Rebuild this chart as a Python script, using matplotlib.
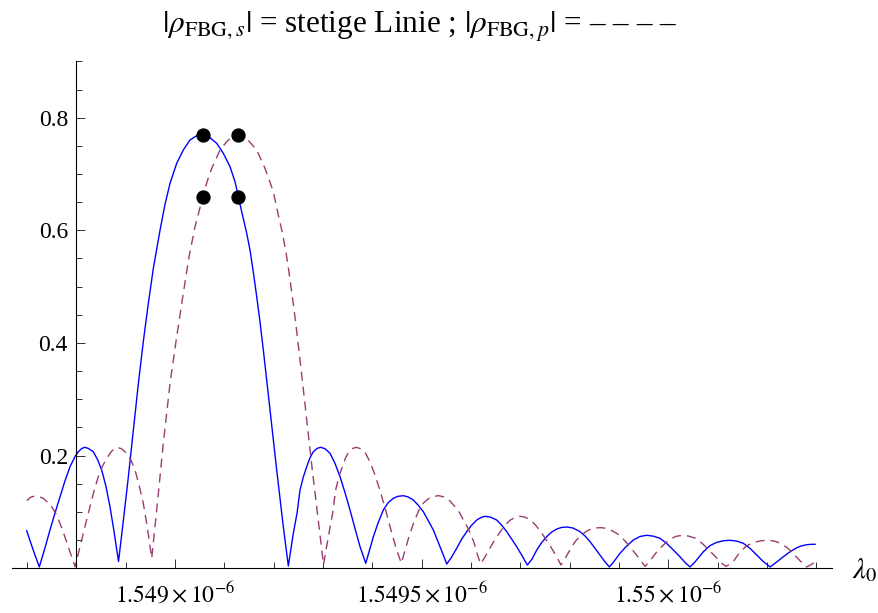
import matplotlib
matplotlib.use("Agg")
import matplotlib.pyplot as plt
from matplotlib.ticker import FixedLocator, FixedFormatter

# ---- data (wavelength in nm, |rho| dimensionless) ----
lam_s = [1548.6994, 1548.7122, 1548.7249,
         1548.7365, 1548.7466, 1548.7568, 1548.7669, 1548.7770, 1548.7872, 1548.7973,
         1548.8040, 1548.8109, 1548.8176, 1548.8243, 1548.8344, 1548.8429, 1548.8514,
         1548.8601, 1548.8682, 1548.8764, 1548.8855,
         1548.8952, 1548.9053, 1548.9155, 1548.9256, 1548.9357, 1548.9459, 1548.9560,
         1548.9696, 1548.9797, 1548.9899, 1549.0034, 1549.0168, 1549.0304, 1549.0440,
         1549.0574, 1549.0709, 1549.0845, 1549.0979, 1549.1115, 1549.1216, 1549.1283,
         1549.1352, 1549.1453, 1549.1520, 1549.1587, 1549.1656, 1549.1723, 1549.1790,
         1549.1859, 1549.1926, 1549.1993, 1549.2061, 1549.2128, 1549.2195, 1549.2250,
         1549.2297,
         1549.2398, 1549.2473, 1549.2534, 1549.2601, 1549.2670, 1549.2736, 1549.2803,
         1549.2878, 1549.2953, 1549.3041, 1549.3142, 1549.3243, 1549.3345, 1549.3446,
         1549.3547, 1549.3649, 1549.3750, 1549.3866,
         1549.3943, 1549.4020, 1549.4115, 1549.4222, 1549.4318, 1549.4425, 1549.4520,
         1549.4628, 1549.4723, 1549.4830, 1549.4926, 1549.5033, 1549.5128, 1549.5236,
         1549.5331, 1549.5438, 1549.5507,
         1549.5595, 1549.5710, 1549.5807, 1549.5913, 1549.6010, 1549.6116, 1549.6203,
         1549.6284, 1549.6395, 1549.6521, 1549.6618, 1549.6724, 1549.6821, 1549.6926,
         1549.7034, 1549.7141,
         1549.7236, 1549.7332, 1549.7429, 1549.7534, 1549.7632, 1549.7737, 1549.7834,
         1549.7940, 1549.8067, 1549.8209, 1549.8311, 1549.8412, 1549.8513, 1549.8615,
         1549.8716, 1549.8803,
         1549.8899, 1549.9020, 1549.9152, 1549.9290, 1549.9426, 1549.9561, 1549.9689,
         1549.9831, 1549.9963, 1550.0101, 1550.0236, 1550.0338, 1550.0439,
         1550.0540, 1550.0709, 1550.0845, 1550.0980, 1550.1118, 1550.1250, 1550.1382,
         1550.1519, 1550.1655, 1550.1791, 1550.1919, 1550.2061,
         1550.2182, 1550.2330, 1550.2466, 1550.2602, 1550.2699, 1550.2805, 1550.2892,
         1550.2973]
rho_s = [0.0664, 0.0330, 0.0020,
         0.0360, 0.0677, 0.0980, 0.1268, 0.1550, 0.1801, 0.1980,
         0.2067, 0.2125, 0.2146, 0.2125, 0.2067, 0.1930, 0.1742,
         0.1450, 0.1091, 0.0650, 0.0117,
         0.0836, 0.1610, 0.2450, 0.3270, 0.4020, 0.4700, 0.5320,
         0.6000, 0.6460, 0.6835, 0.7190, 0.7426, 0.7604, 0.7680,
         0.7693, 0.7645, 0.7545, 0.7368, 0.7130, 0.6863, 0.6597,
         0.6330, 0.5947, 0.5650, 0.5259, 0.4821, 0.4371, 0.3874,
         0.3341, 0.2808, 0.2275, 0.1742, 0.1245, 0.0735, 0.0357,
         0.0037,
         0.0618, 0.0973, 0.1387, 0.1620, 0.1801, 0.1960, 0.2067,
         0.2125, 0.2146, 0.2120, 0.2039, 0.1860, 0.1623, 0.1340,
         0.1032, 0.0700, 0.0380, 0.0085,
         0.0320, 0.0558, 0.0800, 0.1032, 0.1160, 0.1240, 0.1275,
         0.1286, 0.1265, 0.1210, 0.1120, 0.1002, 0.0850, 0.0677,
         0.0470, 0.0233, 0.0073,
         0.0180, 0.0352, 0.0510, 0.0647, 0.0760, 0.0854, 0.0900,
         0.0920, 0.0905, 0.0854, 0.0765, 0.0647, 0.0520, 0.0380,
         0.0220, 0.0055,
         0.0160, 0.0321, 0.0450, 0.0558, 0.0640, 0.0694, 0.0722,
         0.0730, 0.0712, 0.0647, 0.0570, 0.0470, 0.0350, 0.0230,
         0.0110, 0.0020,
         0.0120, 0.0263, 0.0390, 0.0499, 0.0562, 0.0583, 0.0568,
         0.0529, 0.0440, 0.0321, 0.0200, 0.0100, 0.0020,
         0.0110, 0.0291, 0.0400, 0.0458, 0.0486, 0.0494, 0.0480,
         0.0440, 0.0350, 0.0233, 0.0120, 0.0020,
         0.0100, 0.0202, 0.0290, 0.0362, 0.0395, 0.0416, 0.0422,
         0.0423]

lam_p = [1548.6994, 1548.7081, 1548.7162, 1548.7243, 1548.7330, 1548.7416, 1548.7501,
         1548.7588, 1548.7669, 1548.7750, 1548.7837, 1548.7912, 1548.7973,
         1548.8044, 1548.8109, 1548.8196, 1548.8277, 1548.8358, 1548.8445, 1548.8530,
         1548.8616, 1548.8713, 1548.8818, 1548.8916, 1548.9021, 1548.9108, 1548.9189,
         1548.9270, 1548.9357, 1548.9443, 1548.9528,
         1548.9629, 1548.9763, 1548.9899, 1549.0034, 1549.0168, 1549.0284, 1549.0405,
         1549.0507, 1549.0561, 1549.0649, 1549.0744, 1549.0912, 1549.1048, 1549.1155,
         1549.1283,
         1549.1453, 1549.1551, 1549.1656, 1549.1824, 1549.1993, 1549.2094, 1549.2169,
         1549.2242, 1549.2309, 1549.2378, 1549.2445, 1549.2511, 1549.2580, 1549.2647,
         1549.2714, 1549.2783, 1549.2850, 1549.2917, 1549.2972, 1549.3010,
         1549.3120, 1549.3195, 1549.3255, 1549.3322, 1549.3391, 1549.3458, 1549.3525,
         1549.3600, 1549.3675, 1549.3762, 1549.3864, 1549.3965, 1549.4066, 1549.4168,
         1549.4269, 1549.4370, 1549.4472, 1549.4587,
         1549.4664, 1549.4741, 1549.4836, 1549.4944, 1549.5039, 1549.5147, 1549.5242,
         1549.5349, 1549.5445, 1549.5552, 1549.5647, 1549.5755, 1549.5850, 1549.5957,
         1549.6053, 1549.6132, 1549.6193,
         1549.6284, 1549.6385, 1549.6486, 1549.6588, 1549.6689, 1549.6790, 1549.6892,
         1549.6993, 1549.7095, 1549.7210, 1549.7307, 1549.7413, 1549.7510, 1549.7615,
         1549.7723, 1549.7824,
         1549.7926, 1549.8027, 1549.8128, 1549.8230, 1549.8331, 1549.8432, 1549.8534,
         1549.8649, 1549.8777, 1549.8953, 1549.9061, 1549.9162, 1549.9263, 1549.9365,
         1549.9446, 1549.9527,
         1549.9620, 1549.9742, 1549.9874, 1550.0011, 1550.0147, 1550.0283, 1550.0411,
         1550.0553, 1550.0684, 1550.0822, 1550.0958, 1550.1059, 1550.1169,
         1550.1311, 1550.1453, 1550.1594, 1550.1736, 1550.1878, 1550.2020, 1550.2142,
         1550.2284, 1550.2426, 1550.2557, 1550.2679, 1550.2801, 1550.2892, 1550.2973]
rho_p = [0.1197, 0.1262, 0.1281, 0.1268, 0.1240, 0.1170, 0.1091,
         0.0960, 0.0796, 0.0600, 0.0380, 0.0185, 0.0025,
         0.0270, 0.0499, 0.0810, 0.1091, 0.1370, 0.1623, 0.1810,
         0.1950, 0.2075, 0.2146, 0.2120, 0.2039, 0.1920, 0.1742,
         0.1480, 0.1151, 0.0700, 0.0174,
         0.1032, 0.2217, 0.3282, 0.4110, 0.4881, 0.5530, 0.6060,
         0.6400, 0.6586, 0.6860, 0.7101, 0.7426, 0.7574, 0.7660,
         0.7684,
         0.7634, 0.7530, 0.7426, 0.7101, 0.6686, 0.6272, 0.5980,
         0.5650, 0.5260, 0.4820, 0.4370, 0.3870, 0.3340, 0.2810,
         0.2275, 0.1740, 0.1245, 0.0735, 0.0360, 0.0060,
         0.0618, 0.0973, 0.1387, 0.1620, 0.1801, 0.1960, 0.2067,
         0.2125, 0.2146, 0.2120, 0.2039, 0.1860, 0.1623, 0.1340,
         0.1032, 0.0700, 0.0380, 0.0085,
         0.0320, 0.0558, 0.0800, 0.1032, 0.1160, 0.1240, 0.1275,
         0.1286, 0.1265, 0.1210, 0.1120, 0.1002, 0.0850, 0.0677,
         0.0470, 0.0233, 0.0073,
         0.0200, 0.0360, 0.0510, 0.0640, 0.0760, 0.0850, 0.0900,
         0.0920, 0.0905, 0.0854, 0.0765, 0.0647, 0.0520, 0.0380,
         0.0220, 0.0055,
         0.0200, 0.0360, 0.0490, 0.0580, 0.0650, 0.0695, 0.0715,
         0.0718, 0.0700, 0.0618, 0.0540, 0.0440, 0.0330, 0.0220,
         0.0120, 0.0030,
         0.0120, 0.0263, 0.0390, 0.0499, 0.0562, 0.0583, 0.0568,
         0.0529, 0.0440, 0.0321, 0.0200, 0.0100, 0.0030,
         0.0110, 0.0290, 0.0400, 0.0458, 0.0486, 0.0494, 0.0480,
         0.0440, 0.0350, 0.0233, 0.0120, 0.0020, 0.0060, 0.0110]

dot_lam = [1549.0561, 1549.1283, 1549.0561, 1549.1283]
dot_rho = [0.7684, 0.7684, 0.6586, 0.6586]

xmajor = [1549.0, 1549.5, 1550.0]
xmajor_labels = [r"$1.549\times10^{-6}$", r"$1.5495\times10^{-6}$", r"$1.55\times10^{-6}$"]
ymajor = [0.2, 0.4, 0.6, 0.8]
ymajor_labels = ["0.2", "0.4", "0.6", "0.8"]

title_text = r"$|\rho_{\mathrm{FBG},s}|$ = stetige Linie ; $|\rho_{\mathrm{FBG},p}|$ = – – – –"
xlabel_text = r"$\lambda_0$"

# ---- style ----
plt.rcParams['font.family'] = ['Liberation Serif', 'DejaVu Serif']
plt.rcParams['mathtext.fontset'] = 'stix'

W, H = 879, 613
fig = plt.figure(figsize=(W / 100, H / 100), dpi=100)
left, right = 11.7 / W, 831.7 / W
bottom, top = 1 - 568.1 / H, 1 - 61.4 / H
ax = fig.add_axes([left, bottom, right - left, top - bottom])

ax.plot(lam_s, rho_s, color='#0000ff', lw=1.0, solid_joinstyle='round')
ax.plot(lam_p, rho_p, color='#993d71', lw=1.0, dashes=(6.5, 4.3))
ax.plot(dot_lam, dot_rho, 'o', color='black', ms=9.3, zorder=5)

ax.set_xlim(1548.669, 1550.331)
ax.set_ylim(0, 0.9)

for s in ['top', 'right']:
    ax.spines[s].set_visible(False)
ax.spines['left'].set_position(('data', 1548.8))
ax.spines['bottom'].set_position(('data', 0))
for s in ['left', 'bottom']:
    ax.spines[s].set_linewidth(0.8)
    ax.spines[s].set_color('black')

ax.xaxis.set_major_locator(FixedLocator(xmajor))
ax.xaxis.set_major_formatter(FixedFormatter(xmajor_labels))
xminor = [1548.7 + 0.1 * i for i in range(17)]
ax.xaxis.set_minor_locator(FixedLocator([v for v in xminor if all(abs(v - m) > 1e-6 for m in xmajor)]))
ax.yaxis.set_major_locator(FixedLocator(ymajor))
ax.yaxis.set_major_formatter(FixedFormatter(ymajor_labels))
yminor = [0.05 * i for i in range(1, 19)]
ax.yaxis.set_minor_locator(FixedLocator([v for v in yminor if all(abs(v - m) > 1e-6 for m in ymajor)]))

ax.tick_params(which='both', direction='in', color='#333333', width=0.7, labelsize=17)
ax.tick_params(which='major', length=6.5)
ax.tick_params(which='minor', length=4)
ax.tick_params(axis='x', which='major', pad=10)
ax.tick_params(axis='y', which='major', pad=6)

fig.text(420 / W, 1 - 28 / H, title_text, ha='center', va='center', fontsize=22.5)
fig.text(865 / W, 1 - 570 / H, xlabel_text, ha='center', va='center', fontsize=21)

fig.savefig('out.png', dpi=100)
